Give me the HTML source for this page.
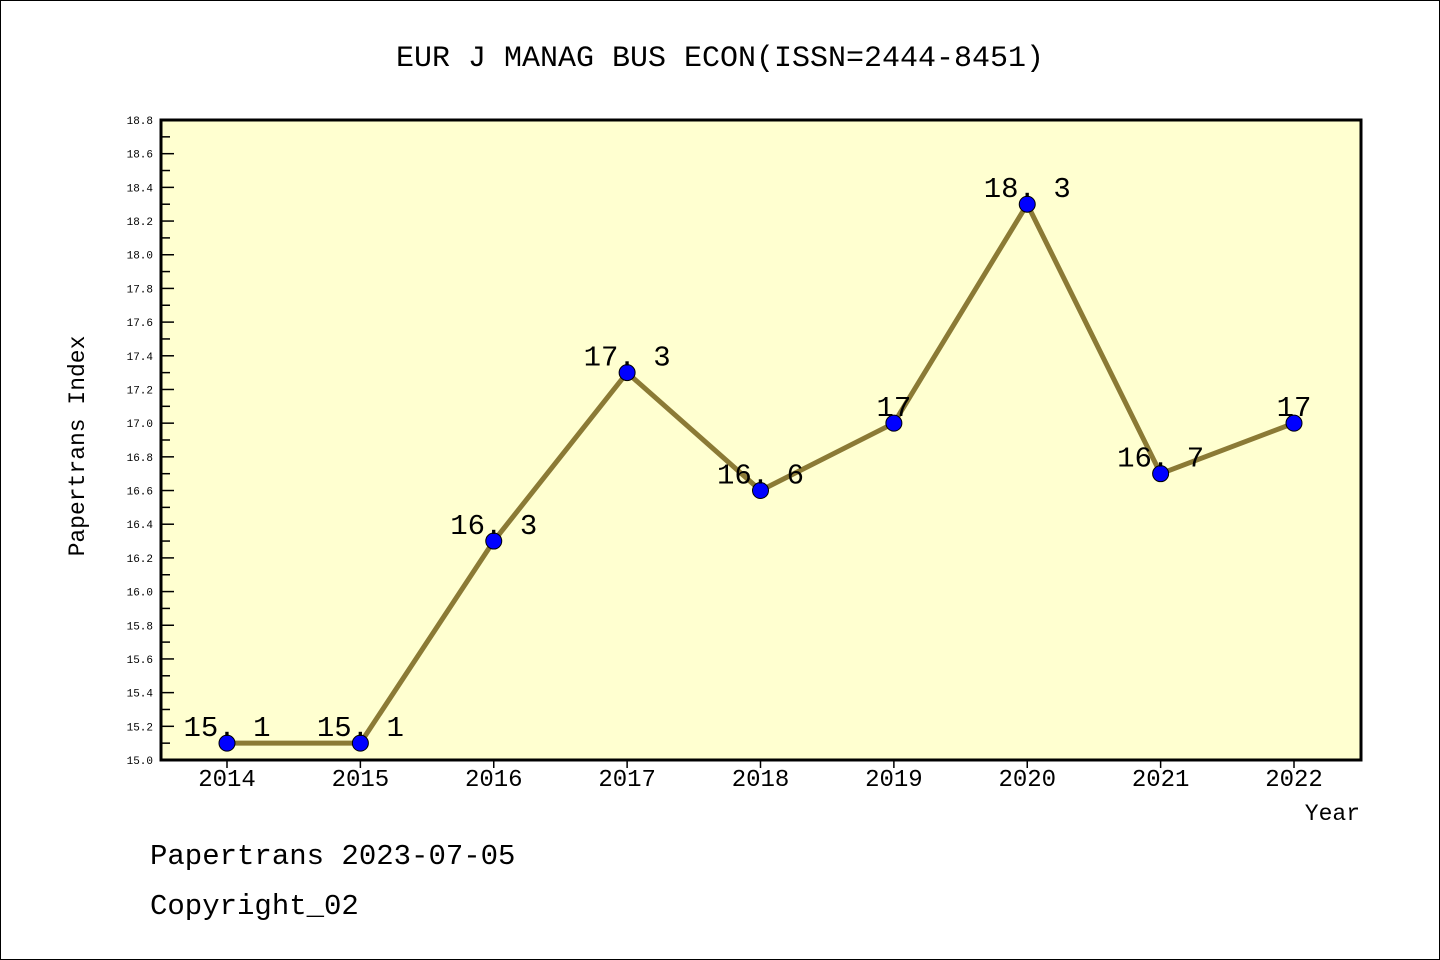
<!DOCTYPE html>
<html><head><meta charset="utf-8"><style>
body{margin:0;background:#fff}
svg{display:block}
text{font-family:"Liberation Mono","DejaVu Sans Mono",monospace}
</style></head><body>
<svg id="c" width="1440" height="960">
<rect x="0.5" y="0.5" width="1439" height="959" fill="#fff" stroke="#000"/>
<text x="720" y="66" text-anchor="middle" font-size="30">EUR J MANAG BUS ECON(ISSN=2444-8451)</text>
<rect x="161" y="120" width="1200" height="640" fill="#ffffd0"/>
<g id="g"></g>
<path d="M161 120 V760 H1361 V120 Z" fill="none" stroke="#000" stroke-width="3"/>
<text transform="translate(84,446) rotate(-90)" text-anchor="middle" font-size="23">Papertrans Index</text>
<text x="1360" y="820" text-anchor="end" font-size="23">Year</text>
<text x="150" y="864" font-size="29">Papertrans 2023-07-05</text>
<text x="150" y="914" font-size="29">Copyright_02</text>
</svg>
<script>
const years=[2014,2015,2016,2017,2018,2019,2020,2021,2022];
const values=[15.1,15.1,16.3,17.3,16.6,17.0,18.3,16.7,17.0];
const valueLabels=["15.1","15.1","16.3","17.3","16.6","17","18.3","16.7","17"];
const yTicks=[15.0,15.2,15.4,15.6,15.8,16.0,16.2,16.4,16.6,16.8,17.0,17.2,17.4,17.6,17.8,18.0,18.2,18.4,18.6,18.8];
const yMin=15.0,yMax=18.8;
const X=i=>227+i*(1294-227)/(years.length-1);
const Y=v=>760-(v-yMin)/(yMax-yMin)*640;
const g=document.getElementById('g');const NS='http://www.w3.org/2000/svg';
function mk(t,a){const e=document.createElementNS(NS,t);for(const k in a)e.setAttribute(k,a[k]);g.appendChild(e);return e;}
yTicks.forEach(v=>{
 const t=mk('line',{x1:161,x2:174,y1:Y(v),y2:Y(v),stroke:'#000','stroke-width':1.5});
 
 
 const l=mk('text',{x:153,y:Y(v)+4,'text-anchor':'end','font-size':11,'font-family':'DejaVu Sans,sans-serif'});l.textContent=v.toFixed(1);
 
 
 if(v<yMax){const m=mk('line',{x1:161,x2:170,y1:Y(v+0.1),y2:Y(v+0.1),stroke:'#000','stroke-width':1.5});
 
 }
});
years.forEach((y,i)=>{
 const t=mk('line',{x1:X(i),x2:X(i),y1:760,y2:768,stroke:'#000','stroke-width':1.5});
 
 
 const l=mk('text',{x:X(i),y:786,'text-anchor':'middle','font-size':24,'font-family':'DejaVu Sans,sans-serif'});l.textContent=y;
 
 
});
const line=mk('polyline',{points:values.map((v,i)=>X(i)+','+Y(v)).join(' '),fill:'none',stroke:'#8b7a35','stroke-width':5,'stroke-linejoin':'round'});


values.forEach((v,i)=>{
 const c=mk('circle',{cx:X(i),cy:Y(v),r:8,fill:'#0000ff',stroke:'#000','stroke-width':1});
 
 
 const l=mk('text',{x:X(i),y:Y(v)-7,'text-anchor':'middle','font-size':29,'font-family':'DejaVu Sans,sans-serif'});l.textContent=valueLabels[i].replace('.',', ').replace(', ',', ').replace(',',' ');
 l.textContent=valueLabels[i].replace('.','. ');
 
 
});
</script>
</body></html>
